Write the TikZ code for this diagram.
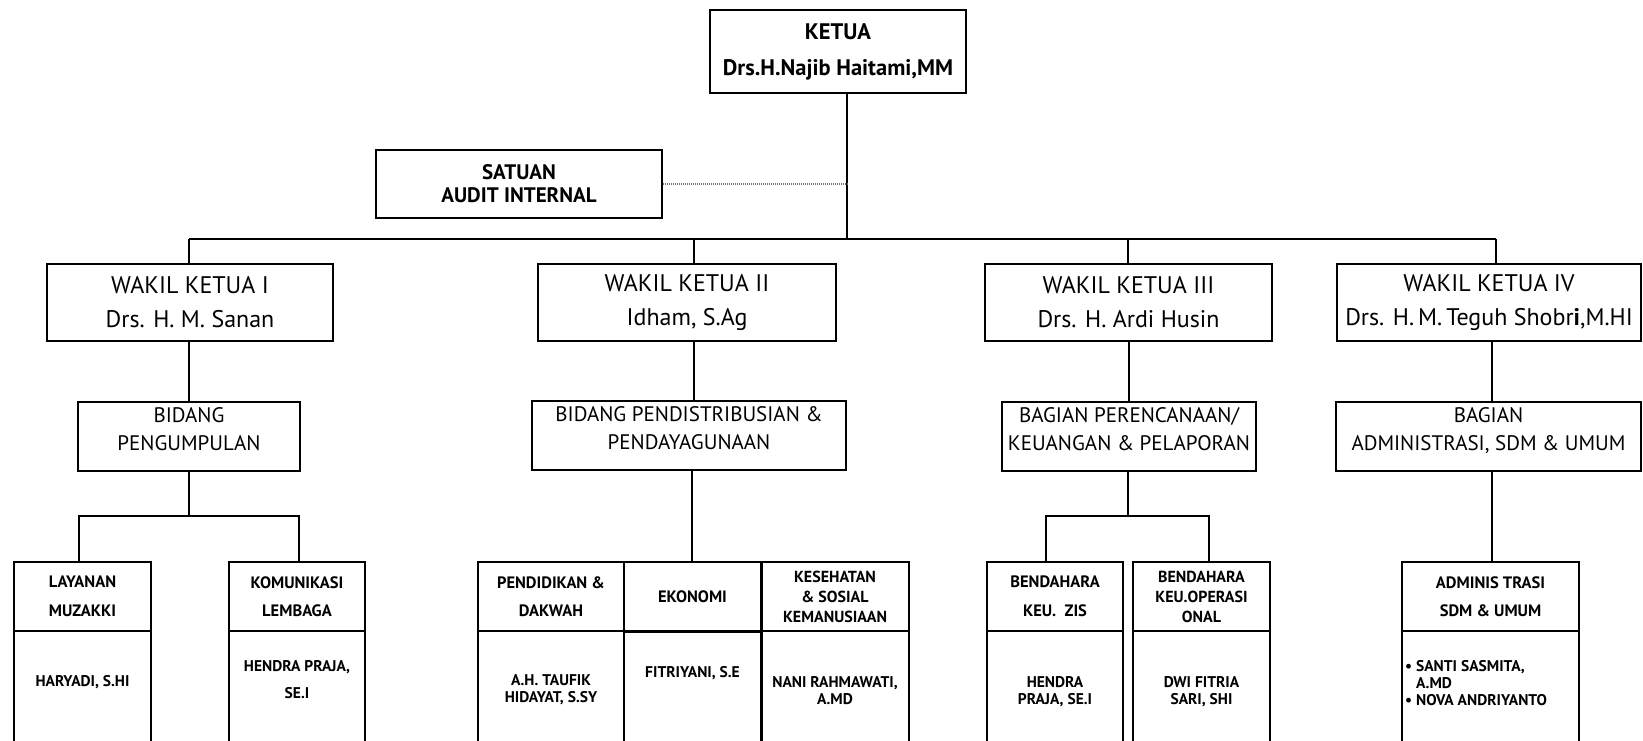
\documentclass[tikz,border=0pt]{standalone}
\usepackage{fontspec}
\setmainfont{PT Sans}
\begin{document}
\begin{tikzpicture}[x=1pt,y=-1pt,
  box/.style={draw, line width=1.7pt, inner sep=0pt, align=center},
  conn/.style={line width=1.5pt},
  audit/.style={draw=black!55, line width=1.8pt, dash pattern=on 1.2pt off 0.8pt},
  topf/.style={font=\bfseries\fontsize{22.5}{36}\selectfont},
  audf/.style={font=\bfseries\fontsize{21}{23}\selectfont},
  wakf/.style={font=\fontsize{24}{34}\selectfont},
  bidf/.style={font=\fontsize{21}{28}\selectfont},
  smf/.style={font=\bfseries\fontsize{16.5}{28.5}\selectfont},
  smtight/.style={font=\bfseries\fontsize{16}{20}\selectfont},
  txt/.style={inner sep=0pt, align=center, font=\bfseries\fontsize{15.5}{17}\selectfont},
  txtw/.style={inner sep=0pt, align=center, font=\bfseries\fontsize{15.5}{27}\selectfont},
  wkbox/.style={box, wakf, minimum height=77pt},
  bdbox/.style={box, bidf, minimum height=69pt, text depth=15pt},
  hdbox/.style={box, smf, minimum height=69pt},
  bybox/.style={box, minimum height=114pt},
]
\clip (0,0) rectangle (1643,741);
\fill[white] (0,0) rectangle (1643,741);

% top level
\node[box, topf, minimum width=256pt, minimum height=83pt] (ketua) at (838,51.5) {KETUA\\Drs.H.Najib Haitami,MM};
\node[box, audf, minimum width=286pt, minimum height=68pt] (satuan) at (519,184) {SATUAN\\AUDIT INTERNAL};

% wakil
\node[wkbox, minimum width=286pt] (w1) at (190,302.5) {WAKIL KETUA I\\Drs. H. M. Sanan};
\node[wkbox, minimum width=298pt] (w2) at (687,302.5) {WAKIL KETUA II\\Idham, S.Ag};
\node[wkbox, minimum width=287pt] (w3) at (1128.5,302.5) {WAKIL KETUA III\\Drs. H. Ardi Husin};
\node[wkbox, minimum width=304pt] (w4) at (1489,302.5) {WAKIL KETUA IV\\Drs. H.\,M.\,Teguh Shobr{\bfseries i},M.HI};

% bidang
\node[bdbox, minimum width=222pt] (b1) at (189,436.5) {BIDANG\\PENGUMPULAN};
\node[bdbox, minimum width=314pt] (b2) at (689,435.5) {BIDANG PENDISTRIBUSIAN \&\\PENDAYAGUNAAN};
\node[bdbox, minimum width=254pt] (b3) at (1129,436.5) {BAGIAN PERENCANAAN/\\KEUANGAN \& PELAPORAN};
\node[bdbox, minimum width=305pt] (b4) at (1488.5,436.5) {BAGIAN\\ADMINISTRASI, SDM \& UMUM};

% unit headers
\node[hdbox, minimum width=137pt] (lay) at (82.5,596.5) {LAYANAN\\MUZAKKI};
\node[hdbox, minimum width=136pt] (kom) at (297,596.5) {KOMUNIKASI\\LEMBAGA};
\node[hdbox, minimum width=146pt] (pen) at (551,596.5) {PENDIDIKAN \&\\DAKWAH};
\node[hdbox, minimum width=137pt] (eko) at (692.5,596.5) {EKONOMI};
\node[hdbox, smtight, minimum width=148pt] (kes) at (835,596.5) {KESEHATAN\\\& SOSIAL\\KEMANUSIAAN};
\node[hdbox, minimum width=136pt] (zis) at (1055,596.5) {BENDAHARA\\KEU.\ \ ZIS};
\node[hdbox, smtight, minimum width=137pt] (ops) at (1201.5,596.5) {BENDAHARA\\KEU.OPERASI\\ONAL};
\node[hdbox, minimum width=177pt] (adm) at (1490.5,596.5) {ADMINIS TRASI\\SDM \& UMUM};

% unit bodies
\node[bybox, minimum width=137pt] (layb) at (82.5,688) {};
\node[bybox, minimum width=136pt] (komb) at (297,688) {};
\node[bybox, minimum width=146pt] (penb) at (551,688) {};
\node[bybox, minimum width=137pt] (ekob) at (692.5,688) {};
\node[bybox, minimum width=148pt] (kesb) at (835,688) {};
\node[bybox, minimum width=136pt] (zisb) at (1055,688) {};
\node[bybox, minimum width=137pt] (opsb) at (1201.5,688) {};
\node[bybox, minimum width=177pt] (admb) at (1490.5,688) {};

% body texts
\node[txt] (t1) at (82.5,682) {HARYADI, S.HI};
\node[txtw] (t2) at (297,679.5) {HENDRA PRAJA,\\SE.I};
\node[txt] (t3) at (551,690) {A.H. TAUFIK\\HIDAYAT, S.SY};
\node[txt] (t4) at (692.5,673) {FITRIYANI, S.E};
\node[txt] (t5) at (835,691) {NANI RAHMAWATI,\\A.MD};
\node[txt] (t6) at (1055,691.5) {HENDRA\\PRAJA, SE.I};
\node[txt] (t7) at (1201.5,691.5) {DWI FITRIA\\SARI, SHI};
\node[txt, align=left, anchor=west] (t8) at (1405,683) {\textbullet\ SANTI SASMITA,\\\phantom{\textbullet\ }A.MD\\\textbullet\ NOVA ANDRIYANTO};

% thick Ekonomi borders
\draw[line width=3pt] (eko.south west) -- (eko.south east);
\draw[line width=3pt] (eko.north east) -- (ekob.south east);

% connectors
\coordinate (kx) at (847,239);
\coordinate (d1) at (189,239);
\coordinate (d2) at (694,239);
\coordinate (d3) at (1128,239);
\coordinate (d4) at (1496,239);
\coordinate (e2) at (692,469);
\coordinate (e4) at (1492,471);
\draw[conn] (ketua.south -| kx) -- (kx);
\draw[conn] (d1) -- (d4);
\draw[conn] (d1) -- (d1 |- w1.north);
\draw[conn] (d2) -- (d2 |- w2.north);
\draw[conn] (d3) -- (d3 |- w3.north);
\draw[conn] (d4) -- (d4 |- w4.north);
\draw[audit] (satuan.east) -- (satuan.east -| kx);

\draw[conn] (b1.north |- w1.south) -- (b1.north);
\draw[conn] (w2.south -| d2) -- (b2.north -| d2);
\draw[conn] (b3.north |- w3.south) -- (b3.north);
\draw[conn] (w4.south -| e4) -- (b4.north -| e4);

\draw[conn] (b2.south -| e2) -- (eko.north -| e2);
\draw[conn] (b4.south -| e4) -- (adm.north -| e4);

\coordinate (j1) at (189,516);
\coordinate (l1) at (79,516);
\coordinate (l2) at (299,516);
\draw[conn] (b1.south -| j1) -- (j1);
\draw[conn] (lay.north -| l1) -- (l1) -- (l2) -- (kom.north -| l2);

\coordinate (j3) at (1128,516);
\coordinate (r1) at (1046,516);
\coordinate (r2) at (1209,516);
\draw[conn] (b3.south -| j3) -- (j3);
\draw[conn] (zis.north -| r1) -- (r1) -- (r2) -- (ops.north -| r2);
\end{tikzpicture}
\end{document}
